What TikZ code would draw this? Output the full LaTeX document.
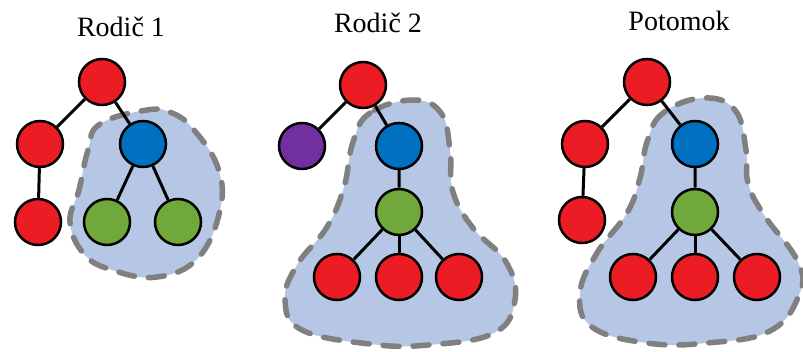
\documentclass[tikz,border=0pt]{standalone}
\usepackage{fontspec}
\setmainfont{Liberation Serif}
\definecolor{cerv}{RGB}{236,28,36}
\definecolor{modr}{RGB}{0,112,192}
\definecolor{zel}{RGB}{112,168,60}
\definecolor{fial}{RGB}{112,48,160}
\definecolor{oblastfill}{RGB}{182,199,230}
\definecolor{oblastdraw}{RGB}{128,128,128}
\begin{document}
\begin{tikzpicture}[x=1pt,y=-1pt,
  uzol/.style={circle,draw=black,line width=2.5pt,minimum size=46pt,inner sep=0pt},
  hrana/.style={line width=3pt},
  oblast/.style={fill=oblastfill,draw=oblastdraw,line width=5.5pt,
    dash pattern=on 16pt off 14pt,line cap=round},
  nadpis/.style={anchor=base,font=\fontsize{28}{30}\selectfont}]
  \useasboundingbox (0,0) rectangle (803,352);
  % zamenene podstromy
  \draw[oblast] plot[smooth cycle,tension=0.7] coordinates
    {(147,110) (100,124) (88,150) (79,190) (70,222) (84,254) (112,270)
     (157,277) (198,258) (220,210) (218,168) (194,130) (172,113)};
  \draw[oblast] plot[smooth cycle,tension=0.7] coordinates
    {(413,100) (370,113) (353,142) (344,187) (327,227) (297,265) (285,300)
     (302,330) (370,344) (428,345) (494,333) (515,300) (506,262)
     (473,228) (453,192) (450,150) (441,113)};
  \draw[oblast] plot[smooth cycle,tension=0.7] coordinates
    {(703,98) (663,113) (647,142) (640,178) (627,213) (597,253) (580,293)
     (592,327) (647,343) (707,343) (770,331) (799,295) (798,262)
     (764,215) (748,183) (746,150) (735,110)};

  % Rodic 1
  \node[nadpis] (t1) at (121,37) {Rodič 1};
  \node[uzol,fill=cerv] (a0) at (102,82) {};
  \node[uzol,fill=cerv] (a1) at (40,144) {};
  \node[uzol,fill=modr] (a2) at (143,144) {};
  \node[uzol,fill=cerv] (a3) at (38,222) {};
  \node[uzol,fill=zel] (a4) at (107,222) {};
  \node[uzol,fill=zel] (a5) at (178,222) {};
  \draw[hrana] (a0) -- (a1) (a0) -- (a2) (a1) -- (a3) (a2) -- (a4) (a2) -- (a5);

  % Rodic 2
  \node[nadpis] (t2) at (378,33) {Rodič 2};
  \node[uzol,fill=cerv] (b0) at (363,85) {};
  \node[uzol,fill=fial] (b1) at (302,146) {};
  \node[uzol,fill=modr] (b2) at (399,146) {};
  \node[uzol,fill=zel] (b3) at (399,212) {};
  \node[uzol,fill=cerv] (b4) at (337,277) {};
  \node[uzol,fill=cerv] (b5) at (399,277) {};
  \node[uzol,fill=cerv] (b6) at (459,277) {};
  \draw[hrana] (b0) -- (b1) (b0) -- (b2) (b2) -- (b3);
  \foreach \k in {4,5,6} \draw[hrana] (b3) -- (b\k);

  % Potomok
  \node[nadpis] (t3) at (679,31) {Potomok};
  \node[uzol,fill=cerv] (c0) at (647,82) {};
  \node[uzol,fill=cerv] (c1) at (585,144) {};
  \node[uzol,fill=modr] (c2) at (695,144) {};
  \node[uzol,fill=cerv] (c3) at (582,220) {};
  \node[uzol,fill=zel] (c4) at (695,212) {};
  \node[uzol,fill=cerv] (c5) at (633,277) {};
  \node[uzol,fill=cerv] (c6) at (695,277) {};
  \node[uzol,fill=cerv] (c7) at (757,277) {};
  \draw[hrana] (c0) -- (c1) (c0) -- (c2) (c1) -- (c3) (c2) -- (c4);
  \foreach \k in {5,6,7} \draw[hrana] (c4) -- (c\k);
\end{tikzpicture}
\end{document}
